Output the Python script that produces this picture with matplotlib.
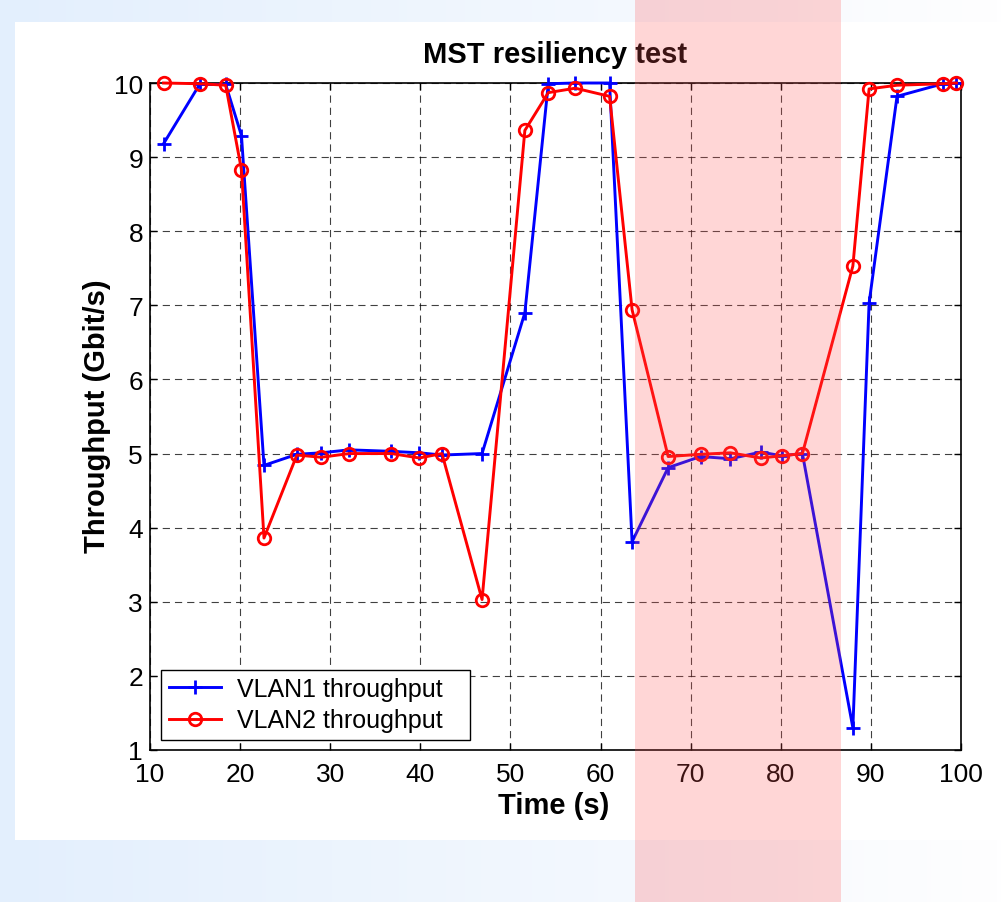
import numpy as np
import matplotlib
matplotlib.use("Agg")
import matplotlib.pyplot as plt
from matplotlib.patches import Rectangle

plt.rcParams['font.family'] = ['Liberation Sans', 'DejaVu Sans']

# ---- data ----
time_s = [11.5, 15.5, 18.4, 20.15, 22.65, 26.3, 29.0, 32.1, 36.8, 39.9, 42.4, 46.85,
          51.6, 54.2, 57.2, 61.0, 63.5, 67.5, 71.1, 74.4, 77.8, 80.1, 82.4,
          88.0, 89.8, 92.9, 98.0, 99.5]
vlan1 = [9.18, 9.98, 9.98, 9.29, 4.84, 4.99, 5.01, 5.05, 5.03, 5.01, 4.98, 5.00,
         6.90, 9.99, 10.0, 10.0, 3.81, 4.81, 4.96, 4.93, 5.02, 4.97, 5.00,
         1.30, 7.03, 9.82, 9.99, 10.0]
vlan2 = [10.0, 9.99, 9.97, 8.83, 3.86, 4.98, 4.95, 5.00, 5.00, 4.94, 5.00, 3.03,
         9.36, 9.87, 9.93, 9.82, 6.94, 4.96, 4.99, 5.01, 4.94, 4.97, 5.00,
         7.53, 9.92, 9.97, 9.99, 10.0]
series_labels = ['VLAN1 throughput', 'VLAN2 throughput']
x_ticks = [10, 20, 30, 40, 50, 60, 70, 80, 90, 100]
y_ticks = [1, 2, 3, 4, 5, 6, 7, 8, 9, 10]
title = 'MST resiliency test'
xlabel = 'Time (s)'
ylabel = 'Throughput (Gbit/s)'

W, H = 1001, 903
fig = plt.figure(figsize=(W / 100, H / 100), dpi=100)

def fx(px):
    return px / W

def fy(py):
    return 1 - py / H

# background gradient + white panel
bg = fig.add_axes([0, 0, 1, 1], zorder=-5)
bg.set_axis_off()
grad = np.linspace(0, 1, 256)
c0 = np.array([227, 239, 253]) / 255.0
c1 = np.array([254, 254, 255]) / 255.0
img = c0[None, None, :] * (1 - grad[None, :, None]) + c1[None, None, :] * grad[None, :, None]
bg.imshow(img, extent=[0, 1, 0, 1], aspect='auto', transform=bg.transAxes)
bg.set_xlim(0, 1)
bg.set_ylim(0, 1)
bg.add_patch(Rectangle((fx(15), fy(841)), 1 - fx(15), fy(23) - fy(841),
                       facecolor='white', edgecolor='none', transform=bg.transAxes))

# main axes
left, right, top, bottom = 150, 961, 84, 751
ax = fig.add_axes([fx(left), fy(bottom), fx(right) - fx(left), fy(top) - fy(bottom)], zorder=1)
ax.set_facecolor('white')

ax.plot(time_s, vlan1, color='#0000ff', lw=2.1, marker='+', ms=10, mew=2.0,
        label=series_labels[0], clip_on=False, zorder=3)
ax.plot(time_s, vlan2, color='#ff0000', lw=2.1, marker='o', ms=9, mew=2.0,
        mfc='none', label=series_labels[1], clip_on=False, zorder=4)

ax.set_xlim(10, 100)
ax.set_ylim(1, 10)
ax.set_xticks(x_ticks)
ax.set_yticks(y_ticks)
ax.tick_params(direction='in', length=5, width=1, labelsize=19,
               top=True, right=True, colors='black')
ax.tick_params(axis='x', pad=8.5)
ax.tick_params(axis='y', pad=5)
for s in ax.spines.values():
    s.set_linewidth(1.2)
    s.set_color('black')
ax.grid(True, color='black', lw=0.8, alpha=0.75, linestyle=(0, (6.5, 4.5)))
ax.set_axisbelow(True)

lx0 = (161 - left) / (right - left)
ly0 = (bottom - 741) / (bottom - top)
lw_ = (470 - 161) / (right - left)
lh_ = (741 - 672) / (bottom - top)
leg = ax.legend(loc='lower left', bbox_to_anchor=(lx0, ly0, lw_, lh_), mode='expand',
                borderaxespad=0, fontsize=18, numpoints=1, handlelength=2.1,
                handletextpad=0.65, labelspacing=0.3, borderpad=0.3, fancybox=False,
                framealpha=1, edgecolor='black')
leg.get_frame().set_linewidth(1.0)

fig.text(fx(555.5), fy(63), title, ha='center', va='baseline', fontsize=21,
         fontweight='bold')
fig.text(fx(554), fy(814), xlabel, ha='center', va='baseline', fontsize=21,
         fontweight='bold')
fig.text(fx(97), fy(416), ylabel, ha='center', va='center', rotation=90,
         fontsize=21, fontweight='bold')

# translucent highlight band across the whole figure
fig.add_artist(Rectangle((fx(635), 0), fx(841) - fx(635), 1, transform=fig.transFigure,
                         facecolor=(1.0, 0.33, 0.33), alpha=0.24, edgecolor='none',
                         zorder=50))

fig.savefig('out.png', dpi=100)
